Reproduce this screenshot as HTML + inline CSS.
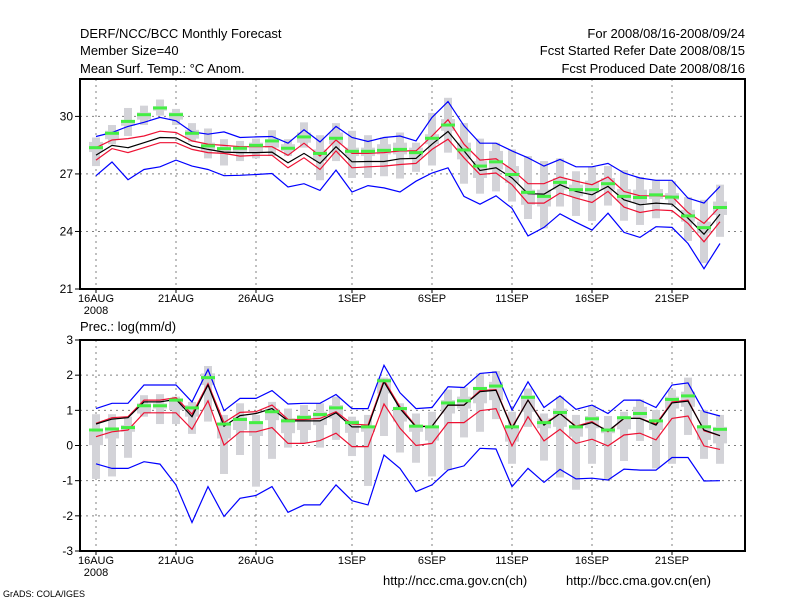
<!DOCTYPE html>
<html><head><meta charset="utf-8"><style>
body{margin:0;background:#fff;}
svg{display:block;font-family:"Liberation Sans",sans-serif;}
</style></head><body>
<svg id="chart" width="800" height="600" viewBox="0 0 800 600" xmlns="http://www.w3.org/2000/svg">
<rect width="800" height="600" fill="#fff"/>
<g font-size="13" fill="#000">
<text x="80" y="38">DERF/NCC/BCC Monthly Forecast</text>
<text x="80" y="55">Member Size=40</text>
<text x="80" y="73">Mean Surf. Temp.: °C Anom.</text>
<text x="745" y="38" text-anchor="end">For 2008/08/16-2008/09/24</text>
<text x="745" y="55" text-anchor="end">Fcst Started Refer Date 2008/08/15</text>
<text x="745" y="73" text-anchor="end">Fcst Produced Date 2008/08/16</text>
<text x="80" y="331">Prec.: log(mm/d)</text>
<text x="383" y="585">http://ncc.cma.gov.cn(ch)</text>
<text x="566" y="585">http://bcc.cma.gov.cn(en)</text>
<text x="3" y="597" font-size="9">GrADS: COLA/IGES</text>
</g>
<g id="top"></g>
<g id="bot"></g>
</svg>
<script>
const days = 40;
const xTickDays = [0,5,10,16,21,26,31,36];
const xTickLabels = ["16AUG","21AUG","26AUG","1SEP","6SEP","11SEP","16SEP","21SEP"];
const tYTicks = [21,24,27,30];
const tBlueUp = [28.95,29.16,29.48,29.69,29.95,29.77,29.19,29.07,29.19,28.90,28.93,28.95,28.60,29.30,28.67,29.48,28.90,28.69,28.90,28.98,28.72,29.95,30.77,29.51,28.60,28.60,28.20,27.84,27.41,27.76,27.37,27.37,27.55,27.05,26.79,26.67,26.67,25.74,25.48,26.35];
const tBlueLo = [26.91,27.62,26.70,27.23,27.37,27.72,27.41,27.23,26.91,26.93,26.97,27.02,26.32,26.49,26.14,27.20,26.06,26.39,26.27,26.06,26.62,27.05,27.32,25.83,25.42,25.86,25.21,23.77,24.21,24.92,24.48,24.07,24.95,23.95,23.69,24.25,24.21,23.37,22.06,23.37];
const tMean = [27.98,28.49,28.37,28.63,28.90,28.88,28.46,28.28,28.14,28.11,28.11,28.14,27.58,28.07,27.55,28.42,27.63,27.65,27.65,27.79,27.81,28.55,29.21,28.20,27.18,27.32,26.79,25.97,25.95,26.44,26.09,25.91,26.35,25.65,25.39,25.48,25.42,24.69,23.86,24.90];
const tRedUp = [28.37,28.77,28.84,28.98,29.23,29.16,28.72,28.55,28.49,28.42,28.42,28.42,27.97,28.60,27.93,28.77,28.07,28.07,28.11,28.20,28.20,28.98,29.83,28.55,27.72,27.79,27.23,26.49,26.49,26.84,26.62,26.44,26.84,26.09,25.86,25.86,25.83,24.99,24.42,25.30];
const tRedLo = [27.72,28.32,28.11,28.37,28.63,28.63,28.28,28.11,28.07,27.93,27.97,27.97,27.32,27.84,27.23,28.20,27.32,27.37,27.41,27.49,27.55,28.28,28.81,27.84,26.97,27.05,26.44,25.48,25.48,26.00,25.74,25.51,26.09,25.27,24.99,25.13,25.09,24.42,23.46,24.51];
const tGreen = [28.37,29.12,29.74,30.09,30.44,30.09,29.12,28.46,28.32,28.34,28.49,28.72,28.34,28.93,28.07,28.86,28.18,28.18,28.23,28.28,28.11,28.86,29.55,28.25,27.41,27.63,26.97,26.04,25.83,26.56,26.18,26.18,26.49,25.83,25.77,25.91,25.79,24.81,24.20,25.25];
const tBarHi = [28.90,29.55,30.44,30.56,30.88,30.39,29.65,29.37,28.81,28.72,28.84,29.28,28.81,29.69,29.02,29.65,29.25,29.02,28.90,29.16,28.63,30.18,30.97,29.65,28.84,28.63,28.28,27.93,27.67,27.81,27.14,27.37,27.41,27.20,26.84,26.70,26.62,25.79,25.65,26.44];
const tBarLo = [27.41,28.55,28.98,29.55,30.04,29.55,28.67,27.81,27.44,27.67,27.81,27.93,27.93,28.37,26.67,27.67,26.79,26.79,26.88,26.76,27.11,27.44,28.11,26.49,25.97,26.09,25.56,24.65,24.16,25.30,24.81,24.55,25.35,24.56,24.34,24.69,25.39,23.51,22.35,23.72];
const tBoxHi = [28.67,29.25,29.77,30.21,30.53,30.21,29.30,28.63,28.37,28.46,28.63,28.81,28.55,29.16,28.28,29.16,28.37,28.37,28.55,28.63,28.37,29.07,29.86,28.63,27.67,28.20,27.41,26.18,26.18,26.79,26.44,26.65,26.79,26.21,26.18,26.21,26.00,25.13,24.51,25.56];
const tBoxLo = [28.14,28.81,29.51,29.83,30.30,29.83,28.84,28.20,28.07,28.11,28.11,28.37,28.20,28.63,27.67,28.55,27.93,27.93,28.02,28.02,27.84,28.55,29.25,27.76,26.79,27.23,26.53,25.39,25.30,26.18,25.83,26.00,26.18,25.56,25.48,25.69,25.65,24.51,23.90,24.86];
const pYTicks = [-3,-2,-1,0,1,2,3];
const pBlueUp = [1.05,1.20,1.20,1.72,1.72,1.72,1.24,2.16,0.99,1.34,1.34,1.56,1.18,1.20,1.20,1.45,1.05,1.05,2.28,1.50,1.05,1.08,1.67,1.65,2.05,2.09,1.01,1.81,1.08,1.41,1.03,1.15,0.91,1.29,1.29,1.08,1.72,1.78,0.96,0.84];
const pBlueLo = [-0.52,-0.65,-0.65,-0.46,-0.53,-1.12,-2.19,-1.17,-2.02,-1.50,-1.42,-1.17,-1.90,-1.69,-1.69,-1.12,-1.57,-1.69,-0.27,-0.65,-1.31,-1.12,-0.70,-0.58,-0.08,-0.10,-1.17,-0.65,-1.05,-0.68,-0.95,-0.93,-0.98,-0.67,-0.70,-0.70,-0.34,-0.34,-1.01,-1.00];
const pMean = [0.61,0.75,0.79,1.24,1.24,1.31,0.82,1.72,0.55,0.85,0.91,1.05,0.70,0.70,0.70,0.93,0.53,0.53,1.81,1.05,0.53,0.55,1.15,1.15,1.53,1.57,0.49,1.29,0.58,0.91,0.53,0.65,0.41,0.77,0.77,0.58,1.21,1.26,0.44,0.28];
const pRedUp = [0.63,0.79,0.82,1.29,1.29,1.36,0.89,1.76,0.65,0.94,0.96,1.15,0.74,0.74,0.77,0.96,0.61,0.58,1.86,1.10,0.55,0.55,1.15,1.15,1.56,1.59,0.52,1.29,0.61,0.91,0.55,0.68,0.39,0.77,0.77,0.61,1.24,1.29,0.42,0.28];
const pRedLo = [0.25,0.39,0.44,0.93,0.93,0.93,0.46,1.27,0.01,0.39,0.39,0.51,0.06,0.06,0.14,0.35,-0.03,-0.03,1.18,0.49,0.00,0.06,0.65,0.65,0.99,1.05,-0.01,0.82,0.13,0.46,0.06,0.18,-0.01,0.30,0.35,0.16,0.77,0.84,-0.01,-0.11];
const pGreen = [0.44,0.47,0.51,1.13,1.13,1.29,1.07,1.93,0.61,0.74,0.65,0.96,0.70,0.80,0.88,1.07,0.65,0.53,1.84,1.05,0.55,0.53,1.21,1.27,1.62,1.69,0.53,1.37,0.65,0.94,0.53,0.76,0.44,0.79,0.91,0.70,1.31,1.41,0.53,0.46];
const pBarHi = [0.89,0.89,0.82,1.43,1.46,1.39,1.24,2.26,0.87,1.20,0.87,1.24,1.05,1.15,1.20,1.39,0.82,0.87,1.93,1.20,0.91,0.96,1.59,1.65,2.05,2.12,0.96,1.62,0.91,1.39,0.87,1.15,0.84,0.96,1.31,1.01,1.59,1.93,1.01,0.87];
const pBarLo = [-0.95,-0.88,-0.35,0.82,0.61,0.61,0.33,0.68,-0.81,-0.27,-1.17,-0.38,-0.06,0.06,-0.06,0.16,-0.30,-1.15,0.27,-0.20,-0.49,-0.88,-0.70,0.23,0.39,0.75,-0.52,0.53,-0.43,-0.91,-1.26,-0.52,-0.98,-0.44,0.13,-0.65,-0.52,0.30,-0.38,-0.52];
const pBoxHi = [0.39,0.49,0.58,1.20,1.20,1.34,1.15,2.05,0.63,0.82,0.68,1.05,0.77,0.87,0.96,1.15,0.72,0.55,1.91,1.10,0.58,0.53,1.29,1.39,1.67,1.81,0.58,1.43,0.77,1.05,0.58,0.84,0.53,0.82,1.10,0.74,1.39,1.53,0.58,0.53];
const pBoxLo = [0.01,0.20,0.39,0.91,1.05,1.01,0.82,1.72,0.20,0.44,0.27,0.72,0.35,0.44,0.58,0.77,0.36,0.39,1.48,0.68,0.39,0.14,0.91,1.05,1.20,1.29,0.11,0.96,0.49,0.53,0.25,0.49,0.35,0.46,0.77,0.44,1.05,1.10,0.16,0.06];

const NS="http://www.w3.org/2000/svg";
function mk(parent, tag, attrs){const e=document.createElementNS(NS,tag);for(const k in attrs)e.setAttribute(k,attrs[k]);parent.appendChild(e);return e;}
const X0=80, X1=745;
function xs(d){return 96+16*d;}

function panel(g, top, bottom, vmin, vmax, yTicks, gridVals, s, showYear){
  const ys=v=>bottom-(v-vmin)/(vmax-vmin)*(bottom-top);
  // grid
  gridVals.forEach(v=>{const l=mk(g,'line',{x1:X0,x2:X1,y1:ys(v),y2:ys(v),stroke:'#808080','stroke-dasharray':'2,4','stroke-width':1});
    
    });
  xTickDays.forEach(d=>{const l=mk(g,'line',{x1:xs(d),x2:xs(d),y1:top,y2:bottom,stroke:'#808080','stroke-dasharray':'2,4','stroke-width':1});
    
    });
  // bars
  for(let i=0;i<days;i++){
    const b=mk(g,'rect',{x:xs(i)-4,y:ys(s.barHi[i]),width:8,height:ys(s.barLo[i])-ys(s.barHi[i]),fill:'#d3d3d8'});
    
    
    const bx=mk(g,'rect',{x:xs(i)-7,y:ys(s.boxHi[i]),width:14,height:ys(s.boxLo[i])-ys(s.boxHi[i]),fill:'#d3d3d8'});
    
    
  }
  const line=(arr,col,name)=>{const p=mk(g,'polyline',{points:arr.map((v,i)=>xs(i)+','+ys(v).toFixed(1)).join(' '),fill:'none',stroke:col,'stroke-width':1.2});
    
    };
  line(s.blueUp,'#0000ff','max-line');line(s.blueLo,'#0000ff','min-line');
  line(s.redUp,'#ee1133','upper-spread-line');line(s.redLo,'#ee1133','lower-spread-line');
  line(s.mean,'#000','ensemble-mean-line');
  for(let i=0;i<days;i++){
    const m=mk(g,'rect',{x:xs(i)-7,y:ys(s.green[i])-1.5,width:14,height:3,fill:'#44ee44'});
    
    
  }
  // frame
  const f=mk(g,'rect',{x:X0,y:top,width:X1-X0,height:bottom-top,fill:'none',stroke:'#000','stroke-width':2});
  
  
  yTicks.forEach(v=>{mk(g,'line',{x1:X0-5,x2:X0,y1:ys(v),y2:ys(v),stroke:'#000'});
    const t=mk(g,'text',{x:X0-7,y:ys(v)+4,'text-anchor':'end','font-size':12});t.textContent=v;
    
    });
  xTickDays.forEach((d,k)=>{mk(g,'line',{x1:xs(d),x2:xs(d),y1:bottom,y2:bottom+4,stroke:'#000'});
    const t=mk(g,'text',{x:xs(d),y:bottom+13,'text-anchor':'middle','font-size':11});t.textContent=xTickLabels[k];
    
    });
  const yr=mk(g,'text',{x:xs(0),y:bottom+25,'text-anchor':'middle','font-size':11});yr.textContent='2008';
  
  
}
panel(document.getElementById('top'),79,289,21,31.95,tYTicks,[24,27,30],
 {blueUp:tBlueUp,blueLo:tBlueLo,mean:tMean,redUp:tRedUp,redLo:tRedLo,green:tGreen,barHi:tBarHi,barLo:tBarLo,boxHi:tBoxHi,boxLo:tBoxLo});
panel(document.getElementById('bot'),340,551,-3,3,pYTicks,[-2,-1,0,1,2],
 {blueUp:pBlueUp,blueLo:pBlueLo,mean:pMean,redUp:pRedUp,redLo:pRedLo,green:pGreen,barHi:pBarHi,barLo:pBarLo,boxHi:pBoxHi,boxLo:pBoxLo});
</script>
</body></html>
